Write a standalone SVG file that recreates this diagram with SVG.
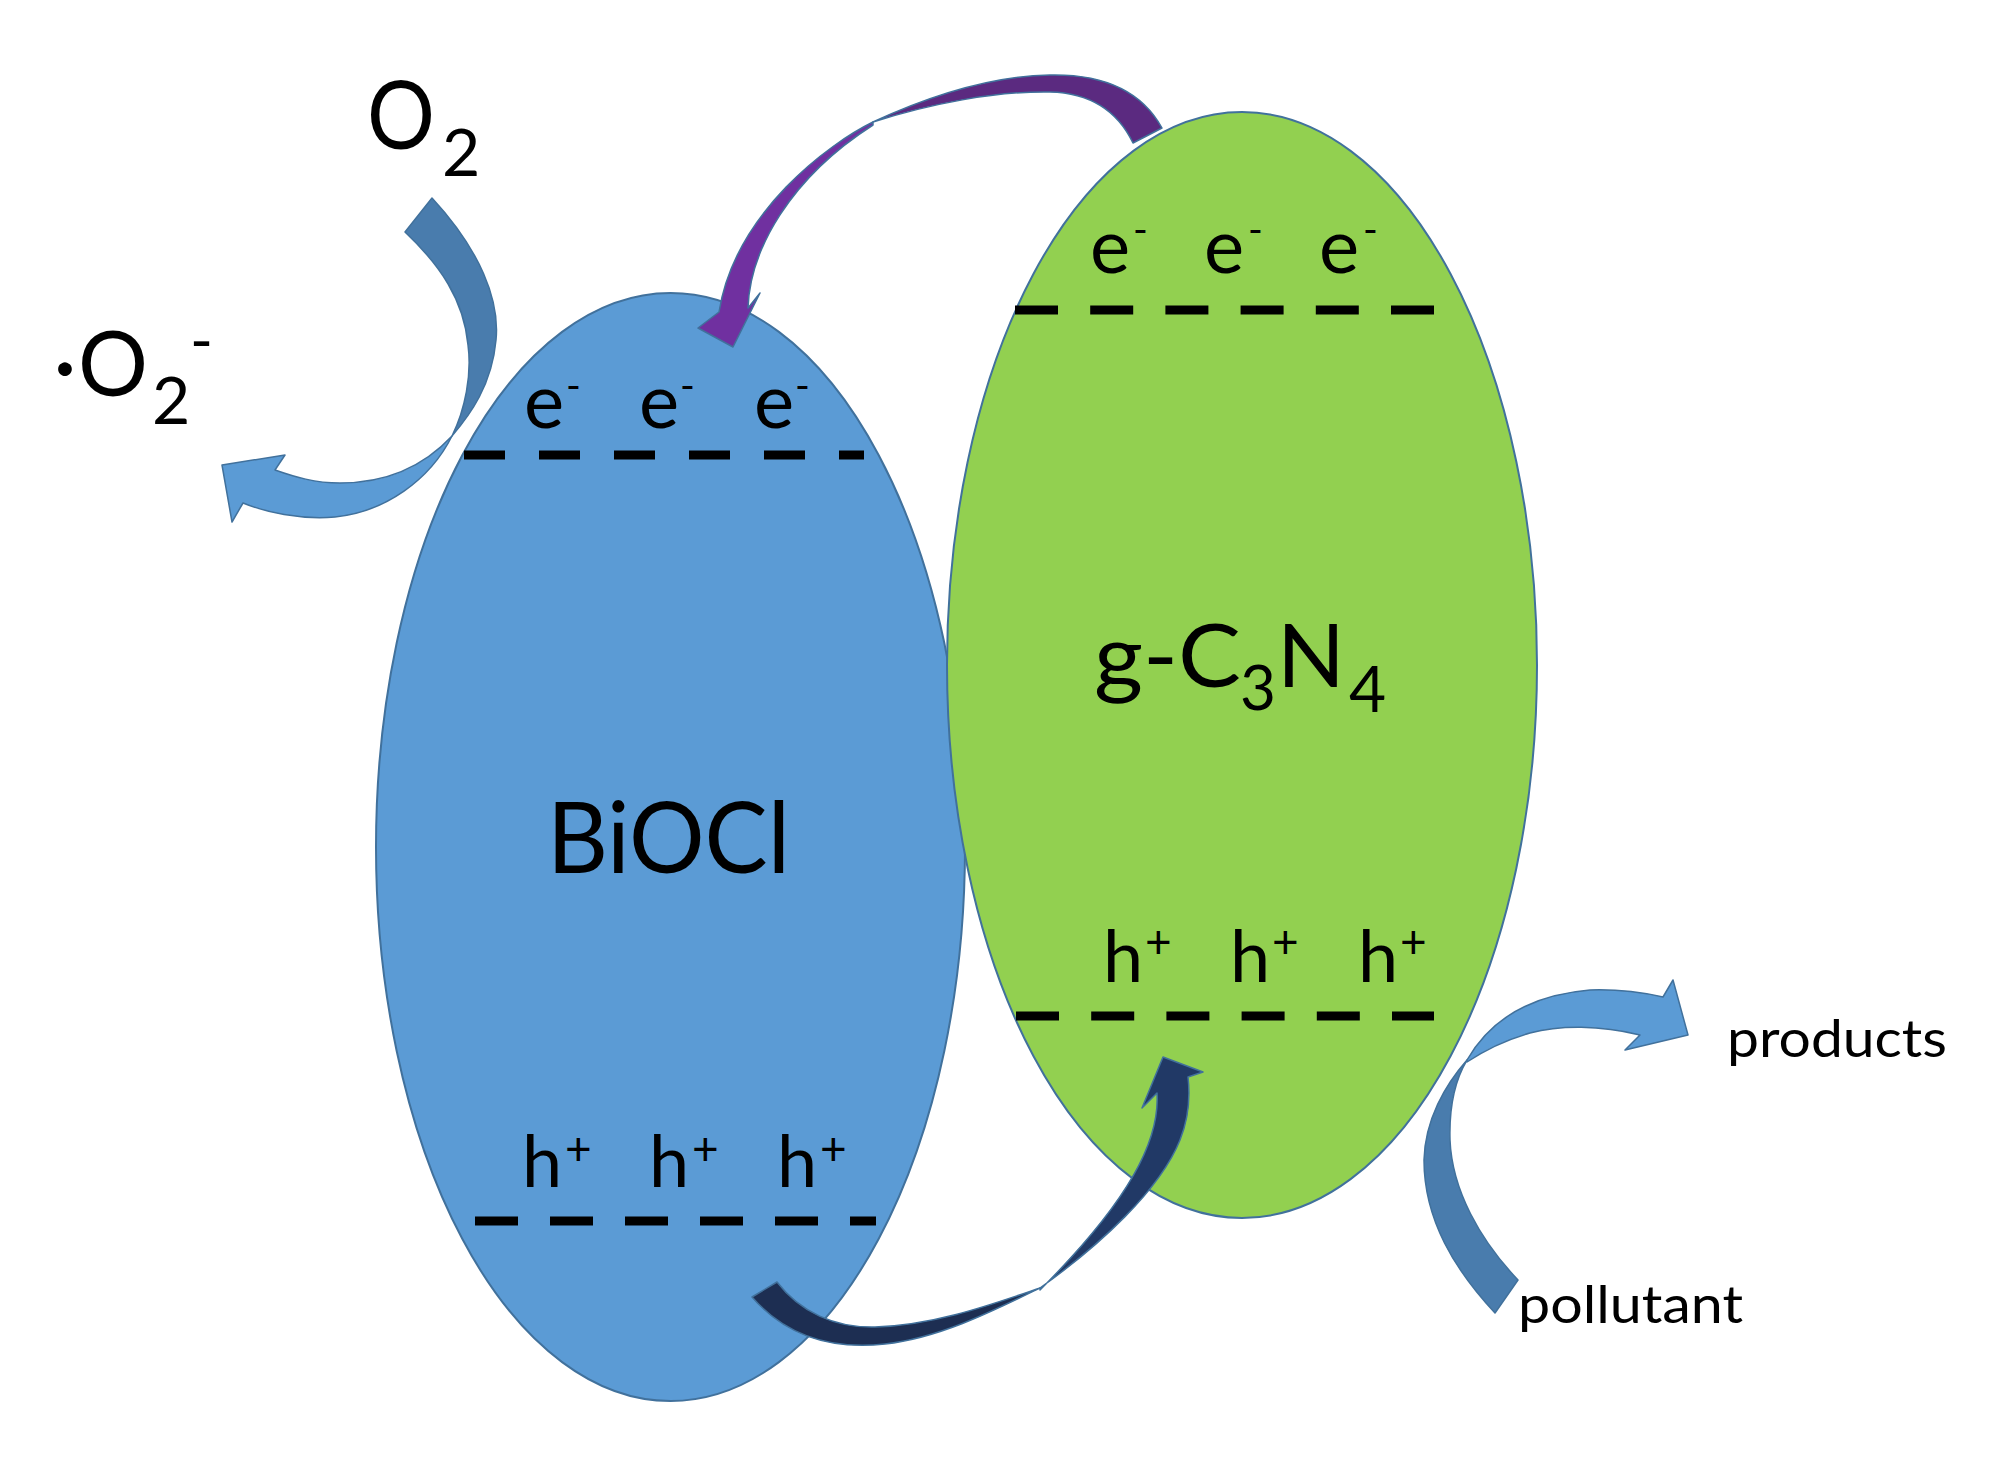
<svg xmlns="http://www.w3.org/2000/svg" width="2012" height="1476" viewBox="0 0 2012 1476">
<style>
.t{font-family:Lato,'Open Sans','Liberation Sans',sans-serif;fill:#000}
.ell{stroke:#41719C;stroke-width:2}
.band{fill:none;stroke:#000;stroke-width:9}
.arr{stroke:#41719C;stroke-width:1.5;stroke-linejoin:round}
</style>
<rect width="2012" height="1476" fill="#fff"/>

<g id="node-biocl">
  <ellipse class="ell" cx="670.5" cy="847" rx="294.5" ry="554" fill="#5B9BD5"/>
  <line class="band" x1="464" y1="455" x2="864" y2="455" stroke-dasharray="41 34"/>
  <line class="band" x1="475" y1="1221" x2="876" y2="1221" stroke-dasharray="43 32"/>
  <text class="t" x="547" y="873" font-size="99" textLength="243" lengthAdjust="spacingAndGlyphs">BiOCl</text>
  <g class="t" font-size="76">
    <text x="524" y="428">e</text><text x="639" y="428">e</text><text x="754" y="428">e</text>
  </g>
  <g class="t" font-size="40">
    <text x="566" y="400">-</text><text x="680" y="400">-</text><text x="795" y="400">-</text>
  </g>
  <g class="t" font-size="72">
    <text x="522" y="1187">h</text><text x="649" y="1187">h</text><text x="777" y="1187">h</text>
  </g>
  <g class="t" font-size="46">
    <text x="565" y="1165">+</text><text x="692" y="1165">+</text><text x="820" y="1165">+</text>
  </g>
</g>

<g id="connectors">
  <g id="arrow-purple">
    <path class="arr" fill="#5B2A80" d="M1162,128 C1140,88 1100,74 1050,75 C990,76 925,98 873,122 C930,104 995,91 1050,92 C1092,93 1118,112 1133,143 Z"/>
    <path class="arr" fill="#7030A0" d="M873,122 C830,143 735,212 719,312 L698,328 L733,347 L760,293 L748,308 C750,250 790,178 873,125 Z"/>
  </g>
</g>

<g id="node-gcn">
  <ellipse class="ell" cx="1242" cy="665" rx="295" ry="553" fill="#92D050"/>
  <line class="band" x1="1015" y1="310" x2="1434" y2="310" stroke-dasharray="43 32.2"/>
  <line class="band" x1="1016" y1="1016" x2="1434" y2="1016" stroke-dasharray="43 32.2"/>
  <text class="t" x="1094" y="687" font-size="88" textLength="147" lengthAdjust="spacingAndGlyphs">g-C</text>
  <text class="t" x="1240" y="710" font-size="62">3</text>
  <text class="t" x="1277" y="687" font-size="88" textLength="68" lengthAdjust="spacingAndGlyphs">N</text>
  <text class="t" x="1349" y="712" font-size="64">4</text>
  <g class="t" font-size="76">
    <text x="1090" y="273">e</text><text x="1204" y="273">e</text><text x="1319" y="273">e</text>
  </g>
  <g class="t" font-size="40">
    <text x="1133" y="244">-</text><text x="1248" y="244">-</text><text x="1363" y="244">-</text>
  </g>
  <g class="t" font-size="72">
    <text x="1103" y="982">h</text><text x="1230" y="982">h</text><text x="1358" y="982">h</text>
  </g>
  <g class="t" font-size="46">
    <text x="1145" y="958">+</text><text x="1272" y="958">+</text><text x="1400" y="958">+</text>
  </g>
</g>

<g id="connectors-front">
  <g id="arrow-navy">
    <path class="arr" fill="#1D2E52" d="M752,1297 L777,1282 C800,1312 835,1328 875,1327 C935,1325 990,1305 1040,1288 C995,1310 940,1338 885,1344 C830,1350 785,1335 752,1297 Z"/>
    <path class="arr" fill="#213966" d="M1040,1288 C1100,1245 1160,1190 1180,1140 C1190,1115 1190,1095 1188,1077 L1203,1072 L1163,1057 L1142,1108 L1157,1093 C1160,1140 1130,1200 1040,1290 Z"/>
  </g>
  <g id="arrow-o2">
    <path class="arr" fill="#497CAD" d="M405,232 L432,198 C480,250 500,300 496,340 C492,385 470,415 452,436 C465,410 472,375 468,345 C464,300 440,265 405,232 Z"/>
    <path class="arr" fill="#5B9BD5" d="M452,436 C425,465 390,483 340,483 C315,483 295,477 275,470 L285,455 L222,465 L232,522 L243,503 C265,512 300,520 335,517 C385,512 430,480 452,436 Z"/>
  </g>
  <g id="arrow-pollutant">
    <path class="arr" fill="#497CAD" d="M1495,1313 L1518,1280 C1480,1240 1452,1190 1450,1140 C1449,1105 1455,1080 1467,1060 C1445,1085 1425,1120 1424,1160 C1424,1220 1455,1270 1495,1313 Z"/>
    <path class="arr" fill="#5B9BD5" d="M1467,1060 C1490,1020 1530,995 1590,990 C1620,989 1645,993 1663,997 L1673,980 L1688,1035 L1625,1050 L1640,1035 C1600,1025 1560,1025 1530,1033 C1505,1040 1485,1050 1467,1062 Z"/>
  </g>
</g>

<g id="label-o2">
  <text class="t" x="367" y="149" font-size="95" textLength="68" lengthAdjust="spacingAndGlyphs">O</text>
  <text class="t" x="442" y="176" font-size="66">2</text>
</g>
<g id="label-superoxide">
  <text class="t" x="53" y="396" font-size="92">·</text>
  <text class="t" x="78" y="396" font-size="92" textLength="70" lengthAdjust="spacingAndGlyphs">O</text>
  <text class="t" x="152" y="424" font-size="66">2</text>
  <text class="t" x="190" y="362" font-size="62">-</text>
</g>
<g id="label-products">
  <text class="t" x="1727" y="1057" font-size="52" textLength="220" lengthAdjust="spacingAndGlyphs">products</text>
</g>
<g id="label-pollutant">
  <text class="t" x="1518" y="1323" font-size="52" textLength="225" lengthAdjust="spacingAndGlyphs">pollutant</text>
</g>
</svg>
